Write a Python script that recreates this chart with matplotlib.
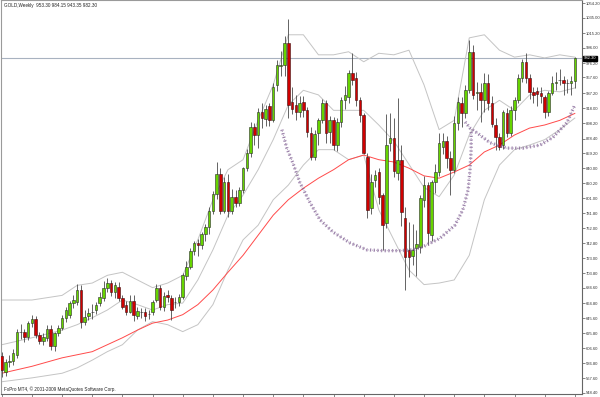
import matplotlib
matplotlib.use("Agg")
import matplotlib.pyplot as plt
import matplotlib.transforms as mtransforms
import numpy as np

# weekly GOLD candles (oldest first)
opens = [597, 575, 589, 590, 598, 627, 628, 621, 639, 644, 624, 616, 620, 632, 609, 626, 633, 646, 650, 665,
         666, 682, 640, 648, 653, 656, 665, 672, 685, 691, 679, 686, 672, 662, 654, 668, 648, 653, 653, 651,
         653, 669, 685, 660, 675, 672, 666, 666, 673, 700, 712, 733, 743, 740, 754, 764, 785, 807, 833, 785,
         822, 784, 803, 795, 812, 840, 860, 894, 883, 913, 904, 920, 902, 948, 973, 974, 1002, 926, 922, 913,
         926, 915, 886, 855, 886, 903, 925, 887, 903, 870, 900, 928, 932, 963, 957, 928, 909, 855, 788, 824,
         835, 805, 769, 873, 879, 834, 851, 775, 734, 726, 737, 738, 799, 818, 753, 822, 835, 868, 875, 853,
         838, 899, 925, 912, 941, 991, 937, 939, 928, 950, 925, 896, 880, 870, 912, 886, 915, 929, 957, 978,
         957, 939, 940, 937, 932, 913, 937, 950, 954, 954, 951, 951, 953.30]
highs = [602, 593, 598, 605, 632, 638, 632, 642, 650, 648, 628, 626, 636, 637, 628, 636, 650, 660, 668, 675,
         690, 688, 656, 659, 664, 667, 680, 694, 697, 695, 692, 692, 676, 668, 675, 676, 660, 658, 659, 656,
         669, 690, 688, 679, 682, 675, 673, 677, 704, 720, 737, 746, 748, 757, 768, 790, 810, 848, 840, 828,
         833, 813, 812, 815, 842, 865, 900, 899, 918, 924, 922, 925, 950, 980, 992, 1011, 1033, 945, 935, 934,
         934, 919, 893, 890, 905, 930, 928, 908, 906, 905, 932, 947, 967, 990, 965, 932, 912, 860, 833, 838,
         840, 808, 910, 912, 905, 931, 870, 790, 770, 768, 760, 805, 830, 822, 825, 845, 885, 885, 882, 862,
         908, 932, 932, 948, 1006, 1000, 952, 950, 963, 962, 934, 905, 885, 915, 918, 920, 932, 962, 982, 990,
         962, 945, 945, 945, 935, 940, 959, 965, 968, 960, 956, 960, 984.15]
lows = [569, 570, 582, 585, 594, 619, 614, 617, 634, 620, 612, 611, 616, 604, 603, 622, 630, 641, 646, 658,
        662, 633, 636, 643, 645, 651, 661, 668, 680, 674, 672, 668, 657, 650, 652, 642, 645, 646, 642, 644,
        650, 667, 656, 655, 666, 643, 659, 661, 670, 695, 709, 728, 726, 735, 746, 755, 780, 800, 780, 782,
        777, 780, 789, 791, 808, 836, 855, 870, 866, 892, 895, 895, 900, 940, 960, 960, 905, 910, 903, 906,
        906, 880, 850, 850, 870, 898, 873, 872, 864, 862, 893, 917, 925, 948, 920, 900, 858, 775, 780, 815,
        793, 734, 762, 862, 828, 825, 765, 682, 699, 715, 700, 730, 790, 740, 745, 808, 830, 858, 840, 805,
        834, 890, 893, 905, 937, 930, 915, 900, 913, 915, 893, 864, 864, 865, 880, 882, 903, 925, 952, 950,
        930, 925, 920, 925, 905, 908, 935, 942, 948, 935, 937, 935, 943.35]
closes = [578, 589, 590, 600, 628, 628, 621, 639, 644, 624, 616, 621, 632, 609, 626, 633, 646, 656, 665, 669,
          682, 640, 647, 652, 653, 662, 673, 685, 691, 679, 688, 672, 660, 653, 668, 650, 655, 653, 648, 651,
          666, 685, 660, 674, 673, 656, 666, 673, 701, 712, 733, 743, 740, 754, 764, 785, 807, 833, 785, 822,
          784, 803, 795, 812, 840, 860, 894, 883, 913, 905, 917, 902, 945, 974, 974, 1002, 922, 917, 913, 925,
          915, 887, 855, 884, 903, 925, 886, 903, 870, 900, 928, 935, 963, 954, 928, 909, 860, 786, 822, 831,
          803, 766, 870, 879, 836, 850, 783, 725, 725, 734, 742, 801, 818, 756, 822, 835, 872, 875, 853, 838,
          899, 926, 912, 941, 991, 935, 939, 928, 951, 925, 897, 880, 867, 913, 886, 915, 929, 957, 978, 957,
          939, 935, 936, 934, 913, 937, 950, 952, 954, 950, 951, 953.30, 982.30]

# indicator lines: (week index, price)
line_idx = [0, 8, 16, 20, 24, 28, 32, 36, 40, 44, 48, 52, 56, 60, 64, 68, 72, 76, 80, 84,
            88, 92, 96, 100, 104, 108, 112, 116, 120, 124, 128, 132, 136, 140, 144, 148, 152]
bb_upper = [669, 669, 675, 688, 691, 701, 705, 695, 685, 691, 701, 747, 799, 838, 851, 902, 948, 1013, 1013, 987,
            987, 991, 978, 989, 987, 993, 948, 890, 902, 1009, 1013, 993, 984, 987, 983, 987, 984]
bb_middle = [611, 620, 630, 637, 646, 656, 669, 663, 656, 663, 665, 695, 734, 779, 805, 838, 877, 922, 941, 935,
             915, 915, 915, 896, 875, 845, 815, 803, 831, 883, 915, 928, 915, 935, 941, 939, 944]
bb_lower = [563, 568, 574, 581, 591, 602, 611, 630, 641, 637, 628, 637, 663, 708, 747, 766, 799, 818, 844, 864,
            864, 851, 857, 786, 747, 708, 689, 691, 695, 727, 799, 844, 864, 870, 877, 890, 905]
ma_red = [574, 583, 594, 598, 602, 611, 620, 630, 639, 643, 650, 663, 682, 705, 727, 753, 779, 799, 814, 827,
          838, 851, 857, 851, 848, 840, 830, 827, 835, 844, 861, 870, 883, 892, 896, 902, 911]

# hand-drawn cup arcs (week index, price)
cup_big_idx = [74.3, 75.6, 77.2, 79.1, 81.8, 84.4, 87.9, 92.4, 96.9, 101.1, 105.6, 108.8, 111.7, 116.2,
               120.2, 122.3, 123.7, 124.2, 124.5, 124.5]
cup_big_px = [890, 866, 847, 821, 795, 773, 757, 743, 734, 733, 733, 734, 738, 749, 766, 786, 812, 838, 864, 890]
cup_small_idx = [122.9, 124.2, 126.0, 129.5, 134.0, 138.3, 142.8, 146.2, 149.9, 152.0]
cup_small_px = [900, 892, 886, 873, 866, 866, 870, 880, 899, 922]

price_ticks = [1054.20, 1035.00, 1015.20, 996.00, 976.20, 957.60, 937.20, 918.00, 898.20, 878.40,
               859.20, 840.00, 820.20, 801.00, 781.80, 762.00, 742.80, 723.00, 703.80, 684.60,
               664.80, 645.60, 625.80, 606.60, 586.80, 567.60, 548.40]
last_price = 982.30

small_font = 'Liberation Sans'

fig = plt.figure(figsize=(6, 3.97), dpi=100)
ax = fig.add_axes([1 / 600, 3 / 397, 581 / 600, 394 / 397])

o = np.array(opens)
h = np.array(highs)
l = np.array(lows)
c = np.array(closes)
idx = np.arange(len(c))
up = c >= o

# wicks
ax.vlines(idx, l, h, color='#4a4a4a', lw=0.6, zorder=3)
# bodies
ax.bar(idx[up], (c - o)[up], bottom=o[up], width=0.68, color='#66d400',
       edgecolor='#2a2a2a', lw=0.4, zorder=4)
ax.bar(idx[~up], (o - c)[~up], bottom=c[~up], width=0.68, color='#d00000',
       edgecolor='#3a1010', lw=0.4, zorder=4)

# Bollinger bands and moving average
for vals in (bb_upper, bb_middle, bb_lower):
    ax.plot(line_idx, vals, color='#c4c4c4', lw=0.7, zorder=2)
ax.plot(line_idx, ma_red, color='#ff4a4a', lw=0.7, zorder=2)

# dotted cups (spray-like)
for xs, ys in ((cup_big_idx, cup_big_px), (cup_small_idx, cup_small_px)):
    ax.plot(xs, ys, color='#8a6a9c', lw=2.4, linestyle=(0, (0.4, 0.7)), zorder=5, alpha=0.7)
    ax.plot(xs, ys, color='#6e4f80', lw=0.8, linestyle=(0.5, (0.5, 1.4)), zorder=5, alpha=0.8)

# current price line
ax.axhline(last_price, color='#a8b2c0', lw=0.8, zorder=1)

ax.set_xlim(-0.2, 153.9)
ax.set_ylim(547.1, 1058.1)

ax.yaxis.tick_right()
ax.set_yticks(price_ticks)
ax.set_yticklabels([f'{v:.2f}' for v in price_ticks], family=small_font)
ax.tick_params(axis='y', direction='out', length=2, width=0.5, colors='#555555',
               labelsize=3.0, pad=0.6, labelcolor='#333333')
ax.set_xticks(np.arange(0, 153, 8))
ax.tick_params(axis='x', direction='out', length=3, width=0.5, colors='#555555', labelbottom=False)

for side in ('left', 'top'):
    ax.spines[side].set_color('#9a9a9a')
    ax.spines[side].set_linewidth(0.8)
for side in ('right', 'bottom'):
    ax.spines[side].set_color('#666666')
    ax.spines[side].set_linewidth(0.8)

trans = mtransforms.blended_transform_factory(ax.transAxes, ax.transData)
ax.text(1.0035, last_price, f'{last_price:.2f}', transform=trans, fontsize=3.0, color='white',
        family=small_font, va='center', ha='left', zorder=10, clip_on=False,
        bbox=dict(boxstyle='square,pad=0.2', fc='black', ec='black'))

fig.text(4 / 600, 1 - 5 / 397, 'GOLD,Weekly  953.30 984.15 943.35 982.30', fontsize=3.3,
         family=small_font, color='#222222', va='center', ha='left')
fig.text(4 / 600, 1 - 389 / 397, 'FxPro MT4, © 2001-2009 MetaQuotes Software Corp.', fontsize=3.3,
         family=small_font, color='#222222', va='center', ha='left')

fig.savefig('out.png', dpi=100, facecolor='white')
